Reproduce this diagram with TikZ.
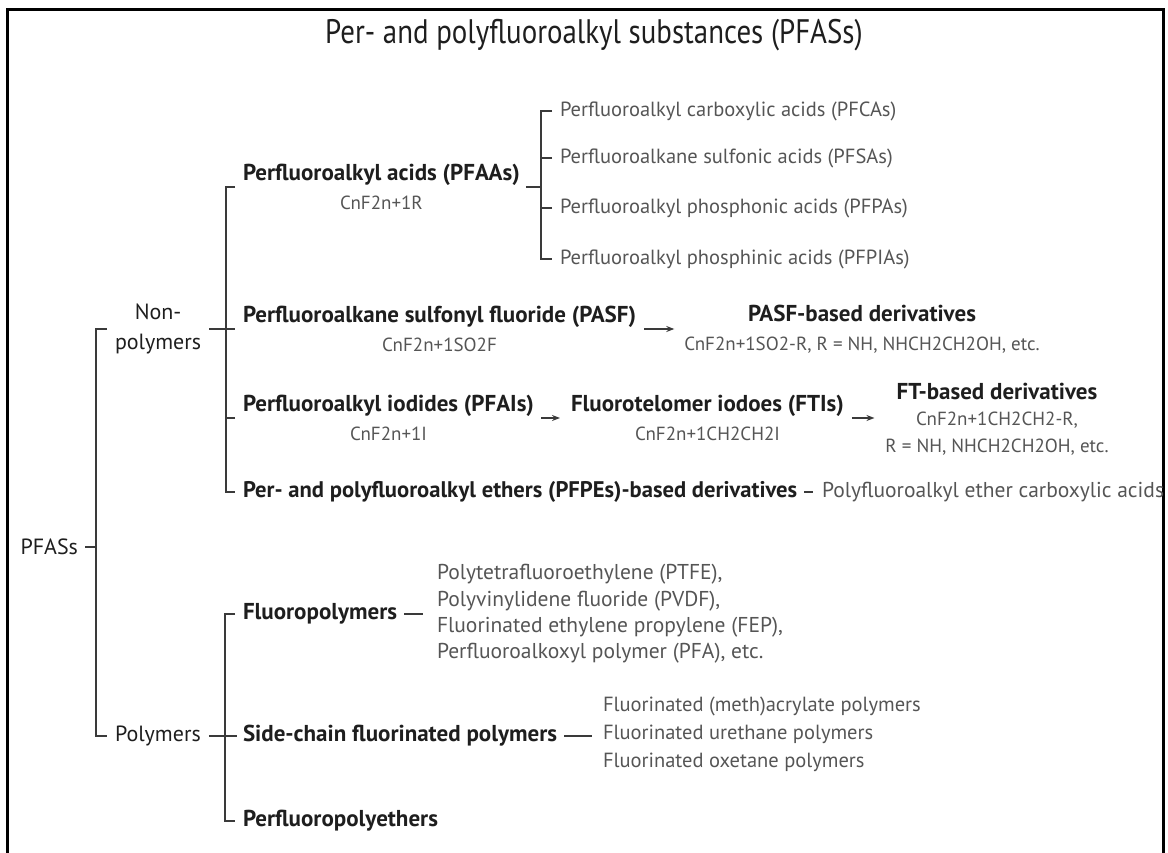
\documentclass[tikz,border=0pt]{standalone}
\usepackage{fontspec}
\setmainfont{PT Sans}
\newfontfamily\condfont[FakeStretch=0.85]{PT Sans}
\usetikzlibrary{arrows.meta}
\definecolor{ink}{HTML}{1E1E1E}
\definecolor{grayink}{HTML}{555555}
\definecolor{lineink}{HTML}{3A3A3A}
\newcommand{\fml}[1]{{\mdseries\fontsize{19}{29}\selectfont\color{grayink}#1}}
\begin{document}
\begin{tikzpicture}[x=1pt,y=-1pt,
  every node/.style={inner sep=0pt, outer sep=0pt},
  bnode/.style={font=\bfseries\fontsize{23}{29}\selectfont, text=ink},
  lnode/.style={font=\fontsize{22}{30}\selectfont, text=ink},
  gnode/.style={font=\fontsize{20.5}{24}\selectfont, text=grayink},
  cnode/.style={font=\fontsize{21.5}{26.3}\selectfont, text=grayink},
  conn/.style={draw=lineink, line width=1.4pt},
  arr/.style={conn, -{Stealth[length=8pt,width=6pt]}},
  frame/.style={draw=black, line width=3pt}
]
\useasboundingbox (0,0) rectangle (1168,853);
\draw[frame] (7,853) -- (7,10) -- (1163,10) -- (1163,853);

\node[font=\condfont\fontsize{34}{40}\selectfont, text=ink] (title) at (594,35) {Per- and polyfluoroalkyl substances (PFASs)};

% level 0 / 1
\node[lnode, anchor=east] (pfas) at (78,547) {PFASs};
\node[lnode, align=center, anchor=west] (np) at (115,329) {Non-\\polymers};
\node[lnode, anchor=west] (pol) at (115,736) {Polymers};

% non-polymers
\node[bnode, align=center, anchor=west] (pfaa) at (243,187) {Perfluoroalkyl acids (PFAAs)\\\fml{CnF2n+1R}};
\node[bnode, align=center, anchor=west] (pasf) at (243,329) {Perfluoroalkane sulfonyl fluoride (PASF)\\\fml{CnF2n+1SO2F}};
\node[bnode, align=center, anchor=west] (pfai) at (243,418) {Perfluoroalkyl iodides (PFAIs)\\\fml{CnF2n+1I}};
\node[bnode, anchor=west, font=\bfseries\fontsize{22.6}{29}\selectfont] (pfpe) at (243,492) {Per- and polyfluoroalkyl ethers (PFPEs)-based derivatives};

% PFAAs subclasses
\node[gnode, anchor=west] (pfca) at (560,111) {Perfluoroalkyl carboxylic acids (PFCAs)};
\node[gnode, anchor=west] (pfsa) at (560,158) {Perfluoroalkane sulfonic acids (PFSAs)};
\node[gnode, anchor=west] (pfpa) at (560,208) {Perfluoroalkyl phosphonic acids (PFPAs)};
\node[gnode, anchor=west] (pfpia) at (560,259) {Perfluoroalkyl phosphinic acids (PFPIAs)};

% derivatives
\node[bnode, align=center] (pasfd) at (862,329) {PASF-based derivatives\\\fml{CnF2n+1SO2-R, R = NH, NHCH2CH2OH, etc.}};
\node[bnode, align=center, anchor=west] (fti) at (571,418) {Fluorotelomer iodoes (FTIs)\\\fml{CnF2n+1CH2CH2I}};
\node[bnode, align=center, font=\bfseries\fontsize{23}{26.5}\selectfont] (ftd) at (997,419) {FT-based derivatives\\\fml{CnF2n+1CH2CH2-R,}\\\fml{R = NH, NHCH2CH2OH, etc.}};
\node[cnode, anchor=west] (pfeca) at (822,492) {Polyfluoroalkyl ether carboxylic acids};

% polymers
\node[bnode, anchor=west] (fluo) at (243,614) {Fluoropolymers};
\node[bnode, anchor=west] (scfp) at (243,736) {Side-chain fluorinated polymers};
\node[bnode, anchor=west] (pfpeth) at (243,821) {Perfluoropolyethers};
\node[cnode, align=left, anchor=west] (fluolist) at (437,614) {Polytetrafluoroethylene (PTFE),\\Polyvinylidene fluoride (PVDF),\\Fluorinated ethylene propylene (FEP),\\Perfluoroalkoxyl polymer (PFA), etc.};
\node[cnode, align=left, anchor=west, font=\fontsize{20.5}{28}\selectfont] (sidelist) at (603,734) {Fluorinated (meth)acrylate polymers\\Fluorinated urethane polymers\\Fluorinated oxetane polymers};

% bracket positions
\coordinate (L1) at (96,0);
\coordinate (L2) at (226,0);
\coordinate (L3) at (541,0);
\coordinate (L2p) at (225,0);

% level 1 bracket
\draw[conn] ([xshift=-8pt]np.west) -- (np.west -| L1) -- (pol.west -| L1) -- ([xshift=-8pt]pol.west);
\draw[conn] ([xshift=7pt]pfas.east) -- (pfas.east -| L1);

% non-polymer bracket
\draw[conn] ([xshift=-8pt]pfaa.west) -- (pfaa.west -| L2) -- (pfpe.west -| L2) -- ([xshift=-8pt]pfpe.west);
\draw[conn] ([xshift=-8pt]pfai.west) -- (pfai.west -| L2);
\draw[conn] ([xshift=8pt]np.east) -- ([xshift=-8pt]pasf.west);

% PFAAs bracket
\draw[conn] ([xshift=-8pt]pfca.west) -- (pfca.west -| L3) -- (pfpia.west -| L3) -- ([xshift=-8pt]pfpia.west);
\draw[conn] ([xshift=-8pt]pfsa.west) -- (pfsa.west -| L3);
\draw[conn] ([xshift=-8pt]pfpa.west) -- (pfpa.west -| L3);
\draw[conn] ([xshift=6pt]pfaa.east) -- (pfaa.east -| L3);

% arrows
\draw[arr, shorten <=8pt, shorten >=10pt] (pasf.east) -- (pasfd.west);
\draw[arr, shorten <=7pt, shorten >=11pt] (pfai.east) -- (fti.west);
\draw[arr, shorten <=8pt, shorten >=11pt] (fti.east) -- (ftd.west |- fti.east);

% dashes
\draw[conn, shorten <=7pt, shorten >=9pt] (pfpe.east) -- (pfeca.west);
\draw[conn, shorten <=7pt, shorten >=14pt] (fluo.east) -- (fluolist.west |- fluo.east);
\draw[conn, shorten <=7pt, shorten >=11pt] (scfp.east) -- (sidelist.west |- scfp.east);

% polymer bracket
\draw[conn] ([xshift=-8pt]fluo.west) -- (fluo.west -| L2p) -- (pfpeth.west -| L2p) -- ([xshift=-8pt]pfpeth.west);
\draw[conn] ([xshift=8pt]pol.east) -- ([xshift=-6pt]scfp.west);
\end{tikzpicture}
\end{document}
